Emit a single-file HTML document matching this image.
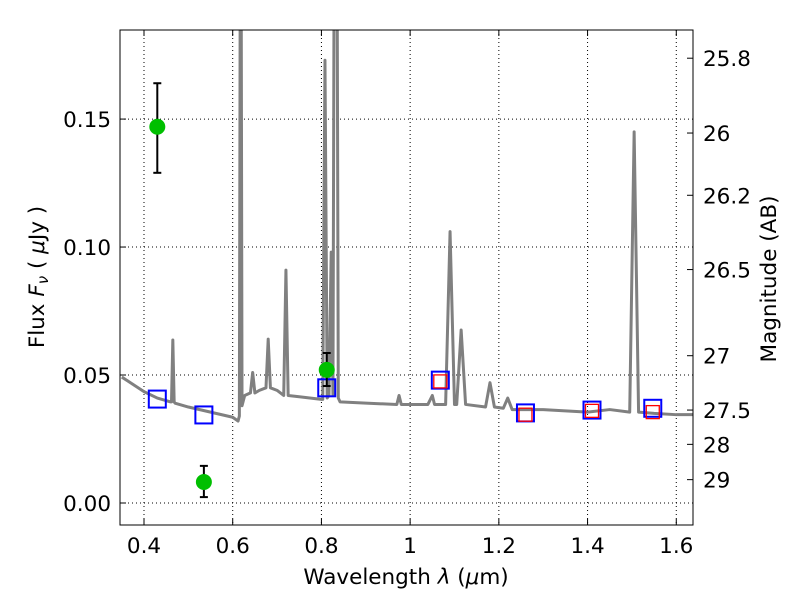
<!DOCTYPE html>
<html><head><meta charset="utf-8"><style>
body{margin:0;background:#fff;}
svg text{font-family:"DejaVu Sans","Liberation Sans",sans-serif;font-size:21.5px;fill:#000;}
</style></head><body>
<svg id="chart" width="800" height="600" xmlns="http://www.w3.org/2000/svg">
<g id="grid"></g>
<g id="spec"></g>
<g id="marks"></g>
<g id="axes"></g>
<text x="406" y="584" text-anchor="middle">Wavelength  <tspan font-style="italic">λ</tspan> (<tspan font-style="italic">μ</tspan>m)</text>
<text transform="translate(44,277) rotate(-90)" text-anchor="middle">Flux  <tspan font-style="italic">F</tspan><tspan font-style="italic" font-size="15" dy="4">ν</tspan><tspan dy="-4">  ( </tspan><tspan font-style="italic">μ</tspan>Jy )</text>
<text transform="translate(776,279) rotate(-90)" text-anchor="middle">Magnitude (AB)</text>
</svg>
<script>
const xTicks=[0.4,0.6,0.8,1.0,1.2,1.4,1.6];
const xTickLabels=["0.4","0.6","0.8","1","1.2","1.4","1.6"];
const yTicks=[0,0.05,0.10,0.15];
const yTickLabels=["0.00","0.05","0.10","0.15"];
const magTicks=[25.8,26,26.2,26.5,27,27.5,28,29];
const magLabels=["25.8","26","26.2","26.5","27","27.5","28","29"];
const specLam=[0.35,0.40,0.43,0.46,0.462,0.465,0.468,0.47,0.5,0.55,0.6,0.612,0.615,0.618,0.621,0.624,0.627,0.64,0.645,0.65,0.66,0.675,0.68,0.685,0.70,0.715,0.72,0.725,0.75,0.80,0.803,0.808,0.813,0.817,0.822,0.826,0.83,0.834,0.838,0.842,0.9,0.97,0.975,0.98,1.0,1.04,1.05,1.055,1.08,1.09,1.1,1.105,1.115,1.125,1.17,1.18,1.19,1.21,1.22,1.23,1.3,1.4,1.45,1.495,1.505,1.515,1.55,1.6,1.64];
const specFlux=[0.0492,0.0435,0.041,0.0395,0.0395,0.0637,0.0395,0.039,0.0375,0.0355,0.0335,0.032,0.034,0.30,0.038,0.040,0.042,0.043,0.051,0.043,0.044,0.045,0.064,0.045,0.044,0.042,0.091,0.042,0.0415,0.0405,0.0405,0.173,0.041,0.042,0.098,0.042,0.30,0.30,0.041,0.0395,0.039,0.0385,0.042,0.0385,0.0385,0.0385,0.042,0.0385,0.0385,0.106,0.0385,0.0385,0.0676,0.0385,0.0375,0.047,0.0375,0.037,0.041,0.0365,0.0365,0.0355,0.0365,0.0355,0.145,0.0355,0.035,0.0345,0.0345];
const ptLam=[0.43,0.535,0.812];
const ptFlux=[0.147,0.0082,0.052];
const ptErrHi=[0.164,0.0145,0.0586];
const ptErrLo=[0.129,0.0023,0.0457];
const blueLam=[0.43,0.535,0.812,1.068,1.26,1.41,1.547];
const blueFlux=[0.0406,0.0344,0.045,0.048,0.0352,0.0363,0.037];
const redLam=[1.068,1.26,1.41,1.547];
const redFlux=[0.0475,0.0345,0.036,0.0355];

const L=120,R=693,T=30,B=525,xmin=0.3459,xmax=1.6377,ymin=-0.0086,ymax=0.1848;
const X=v=>L+(v-xmin)/(xmax-xmin)*(R-L);
const Y=v=>B-(v-ymin)/(ymax-ymin)*(B-T);
const NS="http://www.w3.org/2000/svg";
function mk(tag,parent,attrs){const e=document.createElementNS(NS,tag);for(const k in attrs)e.setAttribute(k,attrs[k]);document.getElementById(parent).appendChild(e);return e;}
xTicks.forEach((t,i)=>{
  const g=mk('line','grid',{x1:X(t),x2:X(t),y1:T,y2:B,stroke:'#000','stroke-width':1,'stroke-dasharray':'1,3'});
  
  
  mk('line','axes',{x1:X(t),x2:X(t),y1:B,y2:B-6,stroke:'#000'});
  mk('line','axes',{x1:X(t),x2:X(t),y1:T,y2:T+6,stroke:'#000'});
  const tx=mk('text','axes',{x:X(t),y:B+28,'text-anchor':'middle'});tx.textContent=xTickLabels[i];
  
  
});
yTicks.forEach((t,i)=>{
  const g=mk('line','grid',{x1:L,x2:R,y1:Y(t),y2:Y(t),stroke:'#000','stroke-width':1,'stroke-dasharray':'1,3'});
  
  
  mk('line','axes',{x1:L,x2:L+6,y1:Y(t),y2:Y(t),stroke:'#000'});
  const tx=mk('text','axes',{x:L-9,y:Y(t)+8,'text-anchor':'end'});tx.textContent=yTickLabels[i];
  
  
});
magTicks.forEach((m,i)=>{
  const f=Math.pow(10,(23.9-m)/2.5);const y=Y(f);
  mk('line','axes',{x1:R,x2:R-6,y1:y,y2:y,stroke:'#000'});
  const tx=mk('text','axes',{x:R+10,y:y+8,'text-anchor':'start'});tx.textContent=magLabels[i];
  
  
});
const cp=mk('clipPath','spec',{id:'clip'});
const cr=document.createElementNS(NS,'rect');cp.appendChild(cr);
cr.setAttribute('x',L);cr.setAttribute('y',T);cr.setAttribute('width',R-L);cr.setAttribute('height',B-T);
const sp=mk('polyline','spec',{points:specLam.map((l,i)=>X(l)+','+Y(specFlux[i])).join(' '),fill:'none',stroke:'#808080','stroke-width':3,'stroke-linejoin':'round','clip-path':'url(#clip)'});


blueLam.forEach((l,i)=>{
  const r=mk('rect','marks',{x:X(l)-8.5,y:Y(blueFlux[i])-8.5,width:17,height:17,fill:'none',stroke:'#0000ff','stroke-width':2});
  
  
});
redLam.forEach((l,i)=>{
  const r=mk('rect','marks',{x:X(l)-6.5,y:Y(redFlux[i])-6.5,width:13,height:13,fill:'none',stroke:'#ff0000','stroke-width':1.3});
  
  
});
ptLam.forEach((l,i)=>{
  const x=X(l);
  const e=mk('line','marks',{x1:x,x2:x,y1:Y(ptErrHi[i]),y2:Y(ptErrLo[i]),stroke:'#000','stroke-width':2});
  
  
  mk('line','marks',{x1:x-4,x2:x+4,y1:Y(ptErrHi[i]),y2:Y(ptErrHi[i]),stroke:'#000','stroke-width':2});
  mk('line','marks',{x1:x-4,x2:x+4,y1:Y(ptErrLo[i]),y2:Y(ptErrLo[i]),stroke:'#000','stroke-width':2});
  const c=mk('circle','marks',{cx:x,cy:Y(ptFlux[i]),r:8,fill:'#00bf00'});
  
  
});
const fr=mk('rect','axes',{x:L,y:T,width:R-L,height:B-T,fill:'none',stroke:'#000','stroke-width':1});


</script>
</body></html>
